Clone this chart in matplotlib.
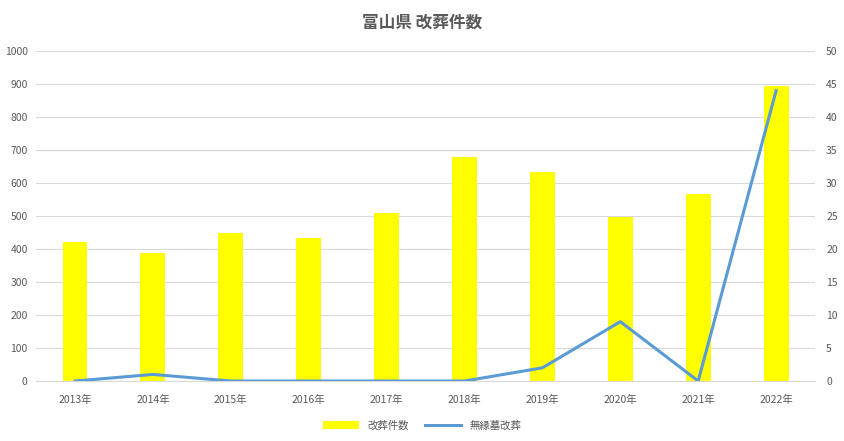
import matplotlib
matplotlib.use("Agg")
import matplotlib.pyplot as plt
import numpy as np

plt.rcParams['font.family'] = ['Noto Sans CJK JP', 'DejaVu Sans']

years = ["2013年", "2014年", "2015年", "2016年", "2017年", "2018年", "2019年", "2020年", "2021年", "2022年"]
kaiso = [422, 388, 450, 435, 510, 678, 635, 497, 567, 893]
muen = [0, 1, 0, 0, 0, 0, 2, 9, 0, 44]

fig = plt.figure(figsize=(8.44, 4.41), dpi=100)
ax = fig.add_axes([0.0427, 0.136, 0.923, 0.748])
ax2 = ax.twinx()

x = np.arange(len(years))
bars = ax.bar(x, kaiso, width=0.32, color='#FFFF00', label='改葬件数', zorder=2)
line, = ax2.plot(x, muen, color='#5B9BD5', linewidth=2.2, label='無縁墓改葬', zorder=3)

ax.set_xlim(-0.5, len(years) - 0.5)
ax.set_ylim(0, 1000)
ax.set_yticks(np.arange(0, 1001, 100))
ax2.set_ylim(0, 50)
ax2.set_yticks(np.arange(0, 51, 5))
ax.set_xticks(x)
ax.set_xticklabels(years)

ax.grid(axis='y', color='#D9D9D9', linewidth=0.8, zorder=0)
ax.set_axisbelow(True)
for a in (ax, ax2):
    for s in a.spines.values():
        s.set_visible(False)
    a.tick_params(length=0, labelsize=7.5, labelcolor='#595959')
ax.spines['bottom'].set_visible(True)
ax.spines['bottom'].set_color('#D9D9D9')
ax.tick_params(axis='y', pad=6)
ax.tick_params(axis='x', pad=10)
ax2.tick_params(axis='y', pad=8)

fig.text(0.5, 0.948, '富山県 改葬件数', ha='center', va='center', fontsize=12,
         fontweight='bold', color='#595959')

fig.legend(handles=[bars, line], loc='center', bbox_to_anchor=(0.5, 0.035), ncol=2,
           frameon=False, fontsize=7.5, labelcolor='#595959', handlelength=3.5,
           columnspacing=1.5)

fig.savefig('out.png', dpi=100)
